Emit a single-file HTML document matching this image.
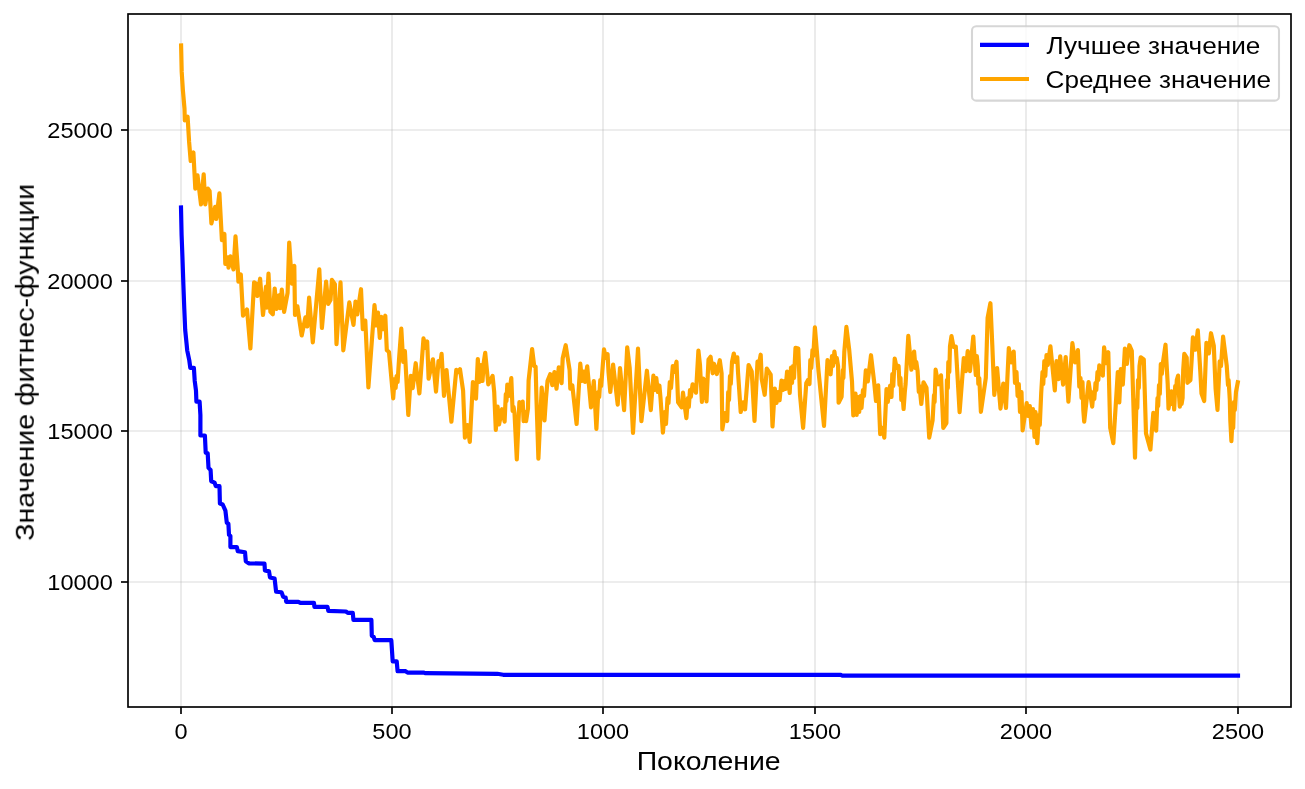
<!DOCTYPE html>
<html lang="ru"><head><meta charset="utf-8"><title>Значение фитнес-функции</title>
<style>
html,body{margin:0;padding:0;background:#fff;}
body{width:1305px;height:789px;overflow:hidden;font-family:"Liberation Sans",sans-serif;}
svg{display:block;}
text{font-family:"Liberation Sans",sans-serif;fill:#000;}
.txt{filter:grayscale(1);}
.tk{font-size:22.7px;}
.lb{font-size:26.5px;}
.lg{font-size:24.5px;}
</style></head><body>
<svg width="1305" height="789" viewBox="0 0 1305 789">
<rect x="0" y="0" width="1305" height="789" fill="#ffffff"/>

<g stroke="#b0b0b0" stroke-opacity="0.3" stroke-width="1.67" fill="none">
<line x1="181.00" y1="14" x2="181.00" y2="707"/>
<line x1="392.00" y1="14" x2="392.00" y2="707"/>
<line x1="603.00" y1="14" x2="603.00" y2="707"/>
<line x1="815.00" y1="14" x2="815.00" y2="707"/>
<line x1="1026.00" y1="14" x2="1026.00" y2="707"/>
<line x1="1238.00" y1="14" x2="1238.00" y2="707"/>
<line x1="128" y1="582.00" x2="1291" y2="582.00"/>
<line x1="128" y1="431.00" x2="1291" y2="431.00"/>
<line x1="128" y1="281.00" x2="1291" y2="281.00"/>
<line x1="128" y1="130.00" x2="1291" y2="130.00"/>
</g>
<clipPath id="c"><rect x="128" y="14" width="1163" height="693"/></clipPath>
<g clip-path="url(#c)" fill="none" stroke-width="4.17" stroke-linejoin="round" stroke-linecap="square">
<polyline stroke="#0000ff" points="181.0,207.5 181.6,235.0 182.4,256.0 183.4,285.0 184.3,309.0 185.2,330.0 186.7,345.0 187.2,350.3 189.3,360.4 190.3,367.9 193.9,367.9 194.7,380.7 196.0,390.8 196.4,401.6 199.6,401.6 200.4,415.2 200.4,435.5 204.9,435.5 205.7,452.7 207.7,453.3 208.5,467.9 210.6,470.0 211.2,481.2 214.6,482.6 215.8,486.2 219.5,486.2 219.9,503.5 222.7,504.5 225.4,510.6 226.8,522.7 228.4,523.8 229.0,534.9 230.4,535.9 230.4,547.1 236.9,547.1 237.7,551.1 245.0,552.2 245.8,561.3 248.7,563.3 264.5,563.7 264.9,570.4 269.0,571.4 270.0,577.5 274.6,578.5 276.1,591.7 281.5,592.3 283.2,596.8 285.6,597.4 286.2,601.8 298.4,601.8 300.4,602.9 314.0,602.9 314.4,606.9 327.5,606.9 328.3,610.9 345.9,611.5 347.8,612.9 352.8,612.9 353.4,619.8 371.4,619.8 371.8,635.8 373.7,636.8 374.7,640.2 391.3,640.2 392.7,661.3 396.7,661.3 397.6,671.2 405.6,671.2 407.6,672.6 423.5,672.6 425.5,673.2 497.3,673.8 503.2,674.8 841.0,674.9 842.0,675.6 1238.0,675.6"/>
<polyline stroke="#ffa500" points="181.1,45.5 181.7,71.9 182.9,90.4 184.5,108.8 184.8,120.4 187.6,116.7 189.1,141.9 190.7,161.0 193.4,152.4 195.3,188.6 197.5,175.3 201.0,204.4 203.7,174.3 205.3,204.4 207.8,188.5 209.6,190.9 211.4,223.5 215.1,206.9 216.3,219.0 219.4,193.4 221.9,240.1 224.4,234.0 225.3,264.0 228.0,257.3 228.5,267.6 230.4,256.3 233.5,269.4 235.5,236.3 237.8,269.4 238.4,281.7 240.8,274.4 243.0,315.6 247.0,309.4 250.4,348.5 254.1,282.4 256.0,283.5 257.4,295.9 260.1,278.7 263.0,315.0 266.0,286.7 266.7,307.6 268.5,273.7 270.4,311.9 272.8,314.3 274.7,288.5 276.5,308.8 279.0,295.3 280.2,308.2 281.8,289.7 284.1,311.9 287.6,292.8 289.2,242.6 291.9,283.6 294.3,265.8 295.0,315.0 297.4,306.3 299.9,323.6 301.7,335.5 305.4,317.4 307.2,326.5 309.1,297.7 312.8,342.3 319.3,269.4 321.9,328.0 326.1,281.5 328.2,303.9 330.5,300.0 331.9,279.9 334.9,284.2 336.5,344.1 340.5,282.4 343.3,350.3 349.3,302.4 353.5,324.9 355.5,301.5 357.3,314.4 361.0,289.2 362.8,329.2 365.3,320.6 368.4,387.3 374.5,305.2 376.4,325.5 378.0,312.6 379.8,337.8 381.3,316.9 383.1,329.2 385.3,315.7 386.8,350.1 389.0,352.0 393.2,398.3 394.6,379.0 395.6,388.0 396.6,376.0 397.6,382.0 399.0,360.0 401.3,328.6 403.2,362.0 404.9,351.0 408.3,415.0 410.8,375.8 412.7,388.1 415.7,363.2 419.4,393.4 423.5,338.4 425.5,348.0 427.2,341.5 428.6,378.7 432.9,359.3 436.0,391.6 438.5,361.0 440.0,366.0 441.6,353.8 444.0,395.9 446.5,370.0 451.4,421.7 456.3,369.8 458.0,372.0 460.0,369.2 463.1,390.6 464.9,437.7 467.4,425.0 469.8,442.0 472.9,382.0 476.0,398.6 477.8,359.0 479.3,382.0 480.9,365.0 482.5,381.0 483.8,362.0 485.2,352.8 488.3,384.4 492.6,375.9 494.2,392.0 495.8,429.8 497.6,406.7 499.1,424.3 502.0,409.2 504.6,421.7 505.8,394.0 506.5,401.0 507.3,384.5 508.8,396.0 511.3,378.0 512.6,411.0 513.6,407.0 514.5,413.0 516.8,459.3 519.4,402.2 521.0,408.0 522.7,401.6 523.6,421.1 525.0,412.0 526.1,421.1 528.0,408.4 528.6,380.6 532.1,349.0 534.2,366.0 535.6,366.6 536.5,400.0 538.4,458.6 541.7,387.7 544.5,420.4 546.0,398.0 547.5,381.1 550.2,374.2 552.3,385.2 554.4,372.1 556.5,388.7 558.8,367.3 561.6,383.2 562.7,358.3 565.7,345.2 569.6,370.0 570.3,388.7 572.3,385.2 576.6,424.0 580.3,363.6 582.0,381.0 583.6,371.5 585.0,382.0 587.2,366.3 591.0,407.3 593.8,381.1 596.4,428.8 598.3,392.0 599.2,397.0 600.3,380.0 601.2,386.0 602.2,373.0 604.0,349.4 605.8,358.0 607.6,354.1 608.5,372.0 610.3,392.0 613.1,364.5 617.7,404.6 620.0,368.0 624.1,410.1 627.2,347.3 629.7,368.0 633.0,433.0 638.0,348.6 641.4,421.2 646.9,370.7 650.8,410.1 653.4,375.6 654.8,390.0 656.3,378.0 657.8,392.0 659.4,385.5 660.5,398.0 662.9,432.6 664.8,412.0 666.0,424.0 667.5,398.0 668.5,403.0 669.8,382.0 671.0,388.0 672.8,366.0 674.0,372.0 676.5,361.7 678.1,402.3 681.6,407.2 683.0,392.7 686.4,418.2 688.0,398.0 688.8,407.0 690.0,390.0 690.8,397.0 692.6,384.4 694.3,388.0 696.0,392.7 698.4,350.5 700.0,365.0 700.6,377.0 701.9,402.0 703.2,378.5 704.2,398.0 705.2,380.0 706.5,401.4 708.5,359.5 710.6,356.8 712.7,373.3 714.0,363.7 716.8,374.0 719.8,360.2 721.6,373.3 722.3,429.3 725.0,413.0 727.2,421.0 728.2,392.0 729.0,400.0 730.0,376.0 730.8,384.0 732.0,362.0 733.8,353.5 735.5,362.0 737.3,357.3 738.0,372.0 740.7,412.0 743.0,402.3 745.1,409.3 746.5,391.3 748.6,365.0 751.7,371.3 754.5,421.0 757.5,361.6 759.0,364.0 760.7,354.7 761.7,378.9 764.7,394.8 766.8,368.5 770.7,374.7 772.5,426.5 774.8,388.5 776.5,403.0 778.0,392.0 779.6,400.3 781.5,380.7 783.0,390.0 784.3,381.0 785.5,389.0 787.1,371.5 788.3,380.0 789.7,393.0 791.0,367.5 792.0,383.0 793.0,366.0 794.0,378.0 795.5,347.8 798.3,348.5 800.0,395.0 803.1,427.9 806.3,383.0 808.0,380.0 809.5,384.0 810.3,360.0 811.3,368.0 812.5,350.0 813.3,356.0 814.9,327.3 818.5,371.0 824.0,425.9 827.5,360.1 830.6,374.3 832.0,356.0 833.0,366.0 834.4,351.5 835.8,362.0 836.8,358.0 838.1,366.3 838.6,402.7 841.6,396.7 842.8,370.0 843.4,378.0 844.3,352.0 846.4,326.9 849.2,349.7 852.0,381.5 853.3,415.5 855.5,393.6 856.7,414.8 858.0,397.0 859.2,412.0 860.5,396.0 861.5,408.0 863.0,390.0 864.0,396.0 865.8,370.4 867.8,381.5 871.0,355.2 874.1,381.5 876.0,401.0 878.2,385.4 880.2,434.1 882.3,428.0 884.3,437.6 886.5,389.0 887.8,402.0 889.0,392.0 890.2,385.5 891.5,397.0 892.3,374.0 893.3,386.0 894.7,358.5 896.7,368.0 898.6,366.0 899.5,385.0 900.5,378.0 901.3,400.0 902.2,390.0 903.6,409.0 904.8,392.0 905.6,384.0 908.3,335.9 911.4,369.7 914.1,351.5 915.5,368.0 916.3,362.0 917.6,371.0 918.8,392.0 919.5,386.0 921.3,404.0 923.5,382.3 926.5,387.8 929.2,437.6 932.6,420.3 934.0,395.0 934.6,402.0 935.6,369.7 938.3,384.3 941.0,375.3 943.3,427.9 946.4,423.1 946.9,380.0 947.8,388.0 948.3,362.0 949.3,372.0 950.0,346.0 951.5,336.0 953.5,347.0 955.8,346.5 959.6,412.1 963.8,358.0 965.9,371.1 967.7,351.1 970.0,371.1 973.3,336.5 974.8,362.0 975.8,375.0 976.8,356.0 977.8,366.0 978.3,384.0 979.3,378.0 980.9,411.8 985.8,378.0 986.8,345.0 987.6,318.0 990.4,303.2 992.3,345.2 994.3,395.0 997.1,368.0 1000.5,408.6 1003.3,383.5 1006.0,407.9 1008.8,348.0 1011.2,362.5 1013.7,351.5 1015.0,383.0 1016.5,372.0 1017.6,396.0 1018.8,384.0 1020.0,412.0 1021.5,392.0 1022.6,430.5 1026.7,403.0 1028.3,416.0 1029.8,406.0 1031.5,427.5 1033.0,409.0 1034.5,437.0 1035.5,412.0 1037.3,443.1 1039.0,415.0 1039.8,425.0 1041.2,393.0 1042.5,372.0 1043.3,384.0 1044.3,361.0 1045.3,376.0 1046.5,355.0 1047.8,365.0 1050.4,346.3 1054.8,390.4 1056.5,361.1 1058.6,379.1 1060.2,356.3 1063.1,384.6 1065.7,357.0 1068.4,401.7 1072.4,343.2 1075.1,362.5 1077.9,350.1 1079.3,386.7 1080.5,378.0 1081.5,398.0 1082.5,382.0 1083.3,410.0 1084.2,421.7 1088.6,382.0 1092.2,406.6 1093.5,392.0 1094.3,399.0 1095.5,383.0 1096.3,390.0 1097.5,372.0 1098.3,380.0 1099.3,365.3 1102.8,375.6 1104.1,347.3 1106.2,363.2 1108.3,352.2 1110.2,427.9 1113.3,443.1 1115.7,405.9 1117.8,372.0 1119.3,402.4 1120.8,369.0 1122.8,384.6 1124.9,348.7 1126.9,363.9 1129.3,345.2 1131.8,350.8 1135.0,457.6 1136.5,400.0 1137.3,408.0 1138.0,380.0 1138.8,388.0 1139.5,366.0 1140.7,357.3 1143.8,359.5 1146.0,433.4 1150.4,449.5 1153.3,412.8 1156.2,430.7 1157.5,398.0 1158.2,406.0 1159.0,385.0 1159.8,394.0 1160.8,364.0 1161.8,374.0 1163.0,362.0 1165.5,344.7 1167.7,383.8 1168.5,408.6 1171.4,391.3 1172.5,404.0 1173.2,396.0 1174.2,409.5 1175.2,386.0 1176.0,394.0 1176.8,380.0 1178.1,375.6 1179.0,395.0 1179.8,406.7 1180.8,396.0 1181.6,404.0 1182.6,398.0 1183.2,370.0 1184.3,353.9 1186.7,357.6 1187.4,382.8 1190.4,380.1 1191.7,359.2 1192.9,337.3 1195.4,349.7 1197.8,330.3 1200.3,371.5 1201.5,393.6 1204.2,401.0 1206.4,342.8 1208.9,353.4 1211.0,333.2 1213.8,345.7 1215.6,388.7 1217.5,409.8 1219.7,361.3 1221.0,366.0 1223.1,336.7 1226.7,365.4 1228.0,385.0 1228.6,380.0 1229.8,400.0 1230.3,420.0 1231.4,441.2 1232.5,420.0 1233.2,428.0 1234.0,402.0 1234.8,410.0 1236.0,392.0 1237.8,382.3"/>
</g>
<g stroke="#000" stroke-width="1.67" fill="none">
<line x1="181.00" y1="707" x2="181.00" y2="714"/>
<line x1="392.00" y1="707" x2="392.00" y2="714"/>
<line x1="603.00" y1="707" x2="603.00" y2="714"/>
<line x1="815.00" y1="707" x2="815.00" y2="714"/>
<line x1="1026.00" y1="707" x2="1026.00" y2="714"/>
<line x1="1238.00" y1="707" x2="1238.00" y2="714"/>
<line x1="128" y1="582.00" x2="121" y2="582.00"/>
<line x1="128" y1="431.00" x2="121" y2="431.00"/>
<line x1="128" y1="281.00" x2="121" y2="281.00"/>
<line x1="128" y1="130.00" x2="121" y2="130.00"/>
</g>
<rect x="128" y="14" width="1163" height="693" fill="none" stroke="#000" stroke-width="1.67" stroke-linejoin="miter"/>
<g class="txt">
<text class="tk" x="181.0" y="739.2" text-anchor="middle" textLength="13.10" lengthAdjust="spacingAndGlyphs">0</text>
<text class="tk" x="392.0" y="739.2" text-anchor="middle" textLength="39.30" lengthAdjust="spacingAndGlyphs">500</text>
<text class="tk" x="603.0" y="739.2" text-anchor="middle" textLength="52.40" lengthAdjust="spacingAndGlyphs">1000</text>
<text class="tk" x="815.0" y="739.2" text-anchor="middle" textLength="52.40" lengthAdjust="spacingAndGlyphs">1500</text>
<text class="tk" x="1026.0" y="739.2" text-anchor="middle" textLength="52.40" lengthAdjust="spacingAndGlyphs">2000</text>
<text class="tk" x="1238.0" y="739.2" text-anchor="middle" textLength="52.40" lengthAdjust="spacingAndGlyphs">2500</text>
<text class="tk" x="112.8" y="590.2" text-anchor="end" textLength="65.5" lengthAdjust="spacingAndGlyphs">10000</text>
<text class="tk" x="112.8" y="439.2" text-anchor="end" textLength="65.5" lengthAdjust="spacingAndGlyphs">15000</text>
<text class="tk" x="112.8" y="289.2" text-anchor="end" textLength="65.5" lengthAdjust="spacingAndGlyphs">20000</text>
<text class="tk" x="112.8" y="138.2" text-anchor="end" textLength="65.5" lengthAdjust="spacingAndGlyphs">25000</text>
<text class="lb" x="708.7" y="769.6" text-anchor="middle" textLength="144" lengthAdjust="spacingAndGlyphs">Поколение</text>
<text class="lb" transform="translate(33.8,362.3) rotate(-90)" text-anchor="middle" textLength="356.9" lengthAdjust="spacingAndGlyphs">Значение фитнес-функции</text>
</g>
<rect x="972" y="26.3" width="307" height="74.3" rx="4.2" ry="4.2" fill="#ffffff" fill-opacity="0.8" stroke="#cccccc" stroke-opacity="0.8" stroke-width="2.08"/>
<line x1="980" y1="44.9" x2="1029" y2="44.9" stroke="#0000ff" stroke-width="4.17"/>
<line x1="980" y1="79" x2="1029" y2="79" stroke="#ffa500" stroke-width="4.17"/>
<g class="txt">
<text class="lg" x="1046.5" y="54.1" textLength="213.85" lengthAdjust="spacingAndGlyphs">Лучшее значение</text>
<text class="lg" x="1045.6" y="88" textLength="225.5" lengthAdjust="spacingAndGlyphs">Среднее значение</text>
</g>
</svg></body></html>
